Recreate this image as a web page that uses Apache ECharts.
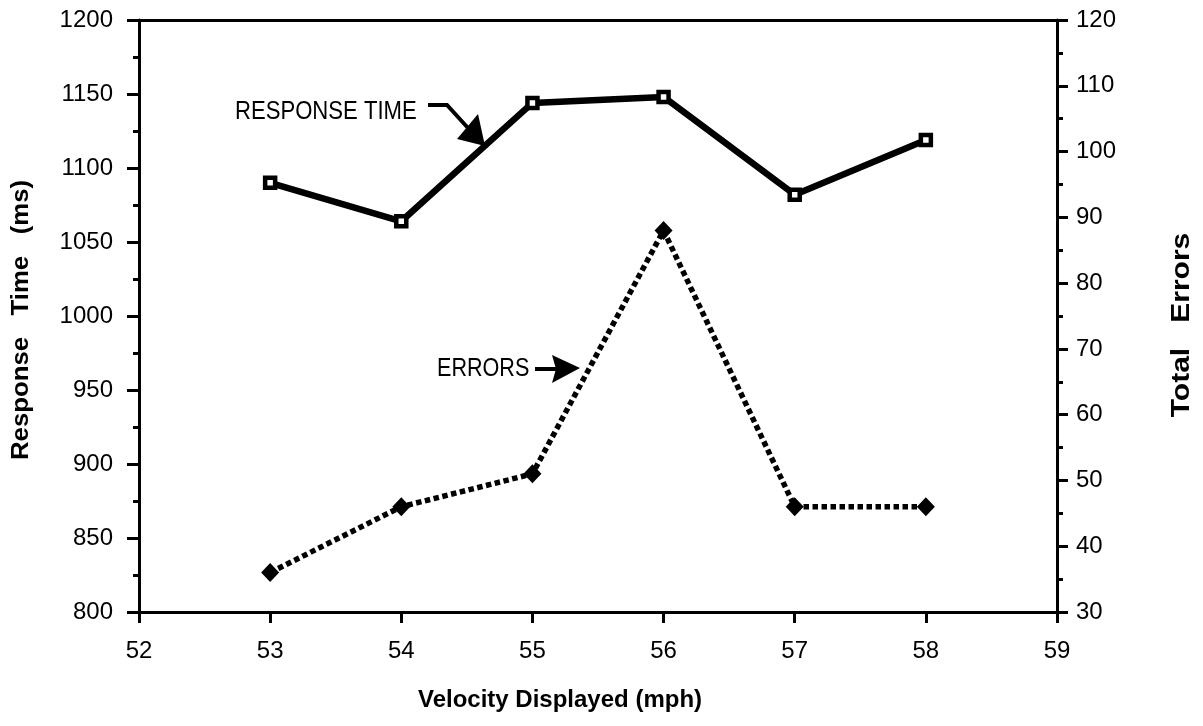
<!DOCTYPE html>
<html>
<head>
<meta charset="utf-8">
<script src="https://cdn.jsdelivr.net/npm/echarts@6/dist/echarts.min.js"></script>
<style>
  html, body { margin: 0; padding: 0; background: #fff; }
  #chart { width: 1203px; height: 726px; }
</style>
</head>
<body>
<div id="chart"></div>
<script>
// velocity (mph) for each condition
const velocity = [53, 54, 55, 56, 57, 58]
// mean response time, ms (left axis)
const responseTime = [1090, 1064, 1144, 1148, 1082, 1119]
// total errors (right axis)
const totalErrors = [36, 46, 51, 88, 46, 46]

const FONT = 'Liberation Sans, Arial, Helvetica, sans-serif'

const chart = echarts.init(document.getElementById('chart'))

const axisLine = { show: true, lineStyle: { color: '#000', width: 3 } }
const plain = (v) => String(v)

const option = {
  backgroundColor: '#fff',
  animation: false,
  grid: { left: 139, right: 146, top: 20, bottom: 114 },
  xAxis: [
    {
      type: 'value',
      min: 52,
      max: 59,
      interval: 1,
      axisLine: axisLine,
      axisTick: { show: true, length: 11, lineStyle: { color: '#000', width: 3 } },
      axisLabel: { color: '#000', fontSize: 24, fontFamily: FONT, margin: 27, formatter: plain },
      splitLine: { show: false },
    },
    {
      // top border of the frame
      type: 'value',
      position: 'top',
      min: 52,
      max: 59,
      axisLine: axisLine,
      axisTick: { show: false },
      axisLabel: { show: false },
      splitLine: { show: false },
    },
  ],
  yAxis: [
    {
      type: 'value',
      position: 'left',
      min: 800,
      max: 1200,
      interval: 50,
      axisLine: axisLine,
      axisTick: { show: true, length: 12, lineStyle: { color: '#000', width: 3 } },
      minorTick: { show: true, splitNumber: 2, length: 6, lineStyle: { color: '#000', width: 3 } },
      axisLabel: { color: '#000', fontSize: 24, fontFamily: FONT, margin: 26, formatter: plain },
      splitLine: { show: false },
    },
    {
      type: 'value',
      position: 'right',
      min: 30,
      max: 120,
      interval: 10,
      axisLine: axisLine,
      axisTick: { show: true, length: 11, lineStyle: { color: '#000', width: 3 } },
      minorTick: { show: true, splitNumber: 2, length: 6, lineStyle: { color: '#000', width: 3 } },
      axisLabel: { color: '#000', fontSize: 24, fontFamily: FONT, margin: 19, formatter: plain },
      splitLine: { show: false },
    },
  ],
  series: [
    {
      name: 'RESPONSE TIME',
      type: 'line',
      yAxisIndex: 0,
      data: velocity.map((v, i) => [v, responseTime[i]]),
      lineStyle: { color: '#000', width: 6.5 },
      symbol: 'rect',
      symbolSize: 10,
      itemStyle: { color: '#fff', borderColor: '#000', borderWidth: 4.5 },
      z: 3,
    },
    {
      name: 'ERRORS',
      type: 'line',
      yAxisIndex: 1,
      data: velocity.map((v, i) => [v, totalErrors[i]]),
      lineStyle: { color: '#000', width: 5.5, type: [5.5, 3.5], cap: 'butt' },
      symbol: 'diamond',
      symbolSize: [18, 19],
      itemStyle: { color: '#000' },
      z: 3,
    },
  ],
  graphic: [
    // axis titles
    {
      type: 'text',
      x: 22,
      y: 320,
      rotation: Math.PI / 2,
      scaleX: 1.12,
      style: {
        text: 'Response   Time   (ms)',
        font: 'bold 23px ' + FONT,
        fill: '#000',
        align: 'center',
        verticalAlign: 'middle',
      },
    },
    {
      type: 'text',
      x: 1182,
      y: 325,
      rotation: Math.PI / 2,
      scaleX: 1.2,
      style: {
        text: 'Total   Errors',
        font: 'bold 25px ' + FONT,
        fill: '#000',
        align: 'center',
        verticalAlign: 'middle',
      },
    },
    {
      type: 'text',
      x: 560,
      y: 700,
      style: {
        text: 'Velocity Displayed (mph)',
        font: 'bold 24px ' + FONT,
        fill: '#000',
        align: 'center',
        verticalAlign: 'middle',
      },
    },
    // annotation: RESPONSE TIME
    {
      type: 'text',
      x: 235,
      y: 112,
      scaleX: 0.85,
      style: {
        text: 'RESPONSE TIME',
        font: '26px ' + FONT,
        fill: '#000',
        align: 'left',
        verticalAlign: 'middle',
      },
    },
    {
      type: 'polyline',
      shape: { points: [[428, 105], [447, 105], [468, 128]] },
      style: { stroke: '#000', lineWidth: 4, fill: null },
    },
    {
      type: 'polygon',
      shape: { points: [[485, 146], [457, 139], [478, 114]] },
      style: { fill: '#000' },
    },
    // annotation: ERRORS
    {
      type: 'text',
      x: 437,
      y: 369,
      scaleX: 0.83,
      style: {
        text: 'ERRORS',
        font: '26px ' + FONT,
        fill: '#000',
        align: 'left',
        verticalAlign: 'middle',
      },
    },
    {
      type: 'line',
      shape: { x1: 535, y1: 369, x2: 558, y2: 369 },
      style: { stroke: '#000', lineWidth: 4 },
    },
    {
      type: 'polygon',
      shape: { points: [[580, 368], [552, 355], [556, 369], [552, 383]] },
      style: { fill: '#000' },
    },
  ],
}

chart.setOption(option)
</script>
</body>
</html>
